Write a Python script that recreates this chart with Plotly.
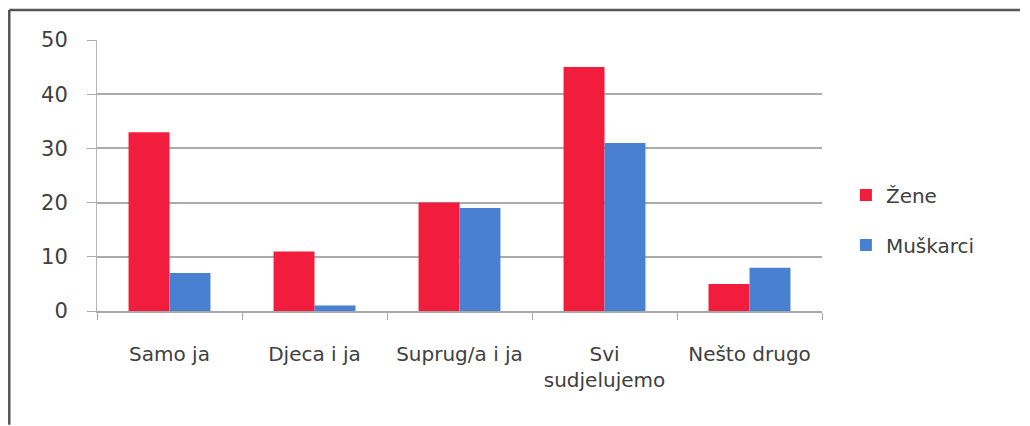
import plotly.graph_objects as go

categories = ["Samo ja", "Djeca i ja", "Suprug/a i ja", "Svi<br>sudjelujemo", "Nešto drugo"]
zene = [33, 11, 20, 45, 5]
muskarci = [7, 1, 19, 31, 8]
y_ticks = [0, 10, 20, 30, 40, 50]

RED = "#F21C3C"
BLUE = "#4A80D2"
FONT = "DejaVu Sans"
TXT = "#404040"

fig = go.Figure()
fig.add_trace(go.Bar(x=categories, y=zene, name="Žene", marker=dict(color=RED, line=dict(width=0)),
                     legendgroup="a"))
fig.add_trace(go.Bar(x=categories, y=muskarci, name="Muškarci", marker=dict(color=BLUE, line=dict(width=0)),
                     legendgroup="b"))

fig.update_layout(
    width=1022, height=418,
    margin=dict(l=89, r=208, t=32, b=115),
    paper_bgcolor="white", plot_bgcolor="white",
    barmode="group", bargap=0.435, bargroupgap=0,
    font=dict(family=FONT, size=20, color=TXT),
    legend=dict(x=1.033, y=0.50, xanchor="left", yanchor="top",
                traceorder="grouped", tracegroupgap=21,
                font=dict(size=20, color=TXT), itemwidth=30),
    showlegend=True,
)
fig.update_xaxes(
    showline=True, linecolor="#A8A8A8", linewidth=1.5,
    ticks="outside", tickson="boundaries", ticklen=7, tickcolor="#A8A8A8",
    showgrid=False, tickfont=dict(size=20, color=TXT), ticklabelstandoff=24,
)
fig.update_yaxes(
    range=[0, 50], tickvals=y_ticks, showgrid=True, gridcolor="#ABABAB", gridwidth=1.5,
    showline=True, linecolor="#B5B5B5", linewidth=1,
    ticks="outside", ticklen=9, tickcolor="#ABABAB",
    tickfont=dict(size=21, color=TXT), zeroline=False, ticklabelstandoff=15,
)

# scanned-frame edges (top and left)
fig.add_shape(type="line", xref="paper", yref="paper", x0=-0.121, x1=1.273, y0=1.111, y1=1.111,
              line=dict(color="#555555", width=2.5))
fig.add_shape(type="line", xref="paper", yref="paper", x0=-0.121, x1=-0.121, y0=1.111, y1=-0.42,
              line=dict(color="#555555", width=2.5))

fig.write_html("out.html")
